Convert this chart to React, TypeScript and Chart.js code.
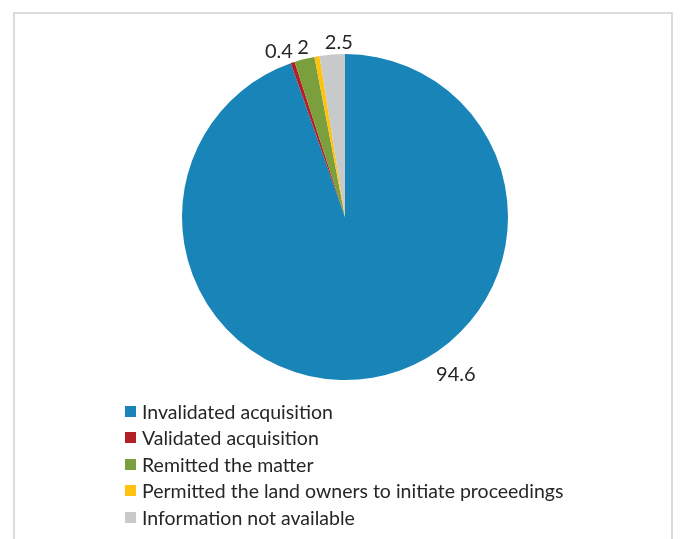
import React, { useEffect, useRef } from "react";
import { Chart, registerables } from "chart.js";

Chart.register(...registerables);

const categories = [
  "Invalidated acquisition",
  "Validated acquisition",
  "Remitted the matter",
  "Permitted the land owners to initiate proceedings",
  "Information not available",
];
const values = [94.6, 0.4, 2, 0.5, 2.5];
const valueLabels = ["94.6", "0.4", "2", "", "2.5"];
const colors = ["#1884b8", "#b31f27", "#7c9f3d", "#ffc20e", "#c8c9cb"];
// label placement tweaks (presentation only)
const labelAngleDeg: (number | null)[] = [57, null, null, null, null];
const labelGap = [17, 4, 4, 4, 4];
const labelNudgeX = [2, -8, 1, 0, 8];

const FONT = "Lato, 'Open Sans', sans-serif";

const labelPlugin = {
  id: "valueLabels",
  afterDraw(chart: any) {
    const ctx = chart.ctx;
    const meta = chart.getDatasetMeta(0);
    ctx.save();
    ctx.font = `20px ${FONT}`;
    ctx.fillStyle = "#262626";
    ctx.textAlign = "center";
    ctx.textBaseline = "middle";
    meta.data.forEach((arc: any, i: number) => {
      const text = valueLabels[i];
      if (!text) return;
      const a =
        labelAngleDeg[i] !== null
          ? ((labelAngleDeg[i] as number) * Math.PI) / 180
          : (arc.startAngle + arc.endAngle) / 2;
      const r = arc.outerRadius + labelGap[i];
      const px = arc.x + Math.cos(a) * r;
      const py = arc.y + Math.sin(a) * r;
      const w = ctx.measureText(text).width;
      const h = 16;
      const cx = px + (Math.cos(a) * w) / 2 + labelNudgeX[i];
      const cy = py + (Math.sin(a) * h) / 2;
      ctx.fillText(text, cx, cy);
    });
    ctx.restore();
  },
};

export default function App() {
  const ref = useRef<HTMLCanvasElement | null>(null);
  useEffect(() => {
    if (!ref.current) return;
    const chart = new Chart(ref.current, {
      type: "pie",
      data: {
        labels: categories,
        datasets: [
          {
            data: values,
            backgroundColor: colors,
            borderWidth: 0,
          },
        ],
      },
      options: {
        animation: false,
        responsive: false,
        maintainAspectRatio: false,
        layout: { padding: { left: 182, right: 172, top: 54, bottom: 159 } },
        plugins: {
          legend: { display: false },
          tooltip: { enabled: false },
        },
      },
      plugins: [labelPlugin],
    });
    return () => chart.destroy();
  }, []);

  return (
    <div
      style={{
        position: "fixed",
        left: 0,
        top: 0,
        width: 680,
        height: 539,
        background: "#fff",
        overflow: "hidden",
        fontFamily: FONT,
      }}
    >
      <div
        style={{
          position: "absolute",
          left: 13,
          top: 12,
          width: 660,
          height: 560,
          border: "2px solid #dcdcdc",
          boxSizing: "border-box",
        }}
      />
      <canvas
        ref={ref}
        width={680}
        height={539}
        style={{ position: "absolute", left: 0, top: 0, width: 680, height: 539 }}
      />
      <div style={{ position: "absolute", left: 125, top: 398 }}>
        {categories.map((c, i) => (
          <div
            key={c}
            style={{
              display: "flex",
              alignItems: "center",
              height: 26.5,
              fontSize: 19.5,
              color: "#262626",
              whiteSpace: "nowrap",
            }}
          >
            <span
              style={{
                display: "inline-block",
                width: 11,
                height: 11,
                background: colors[i],
                marginRight: 6,
              }}
            />
            <span>{c}</span>
          </div>
        ))}
      </div>
    </div>
  );
}
